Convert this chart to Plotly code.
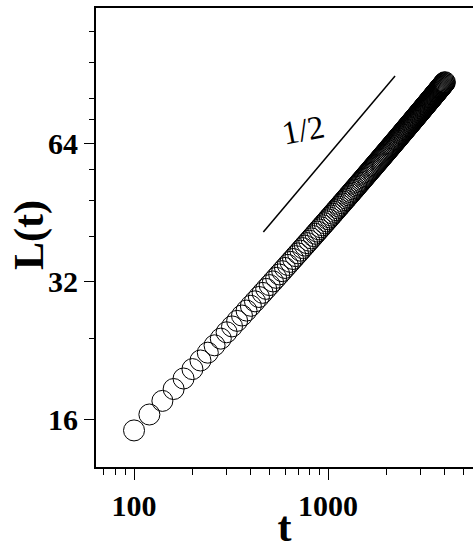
import math
import plotly.graph_objects as go

# time steps (t = 100, 120, ..., 4000)
t_vals = list(range(100, 4001, 20))

# L(t)
L_vals = [
    15.17, 16.43, 17.59, 18.67, 19.68, 20.63, 21.54, 22.40, 23.24, 24.03,
    24.81, 25.55, 26.27, 26.98, 27.66, 28.33, 28.97, 29.61, 30.23, 30.84,
    31.43, 32.01, 32.59, 33.15, 33.70, 34.25, 34.78, 35.31, 35.82, 36.34,
    36.84, 37.34, 37.83, 38.31, 38.79, 39.26, 39.72, 40.18, 40.64, 41.09,
    41.54, 41.98, 42.41, 42.85, 43.27, 43.70, 44.11, 44.53, 44.94, 45.35,
    45.75, 46.16, 46.55, 46.95, 47.34, 47.73, 48.11, 48.49, 48.87, 49.25,
    49.62, 49.99, 50.36, 50.72, 51.09, 51.45, 51.81, 52.16, 52.52, 52.87,
    53.22, 53.56, 53.91, 54.25, 54.59, 54.93, 55.26, 55.60, 55.93, 56.26,
    56.59, 56.92, 57.24, 57.57, 57.89, 58.21, 58.53, 58.84, 59.16, 59.47,
    59.78, 60.10, 60.40, 60.71, 61.02, 61.32, 61.63, 61.93, 62.23, 62.53,
    62.83, 63.12, 63.42, 63.71, 64.00, 64.30, 64.59, 64.88, 65.16, 65.45,
    65.74, 66.02, 66.30, 66.59, 66.87, 67.15, 67.42, 67.70, 67.98, 68.26,
    68.53, 68.80, 69.08, 69.35, 69.62, 69.89, 70.16, 70.42, 70.69, 70.96,
    71.22, 71.49, 71.75, 72.01, 72.28, 72.53, 72.79, 73.05, 73.31, 73.57,
    73.83, 74.08, 74.34, 74.59, 74.84, 75.10, 75.35, 75.60, 75.85, 76.10,
    76.35, 76.60, 76.84, 77.09, 77.34, 77.58, 77.83, 78.07, 78.31, 78.56,
    78.80, 79.04, 79.28, 79.52, 79.76, 80.00, 80.23, 80.47, 80.71, 80.94,
    81.18, 81.41, 81.65, 81.88, 82.11, 82.35, 82.58, 82.81, 83.04, 83.27,
    83.50, 83.73, 83.96, 84.19, 84.41, 84.64, 84.87, 85.09, 85.32, 85.54,
    85.77, 85.99, 86.21, 86.43, 86.66, 86.88,
]

# guide line with slope 1/2
guide_t = [464, 2215]
guide_slope = 0.5
guide_L0 = 41.0
guide_L = [guide_L0 * (t / guide_t[0]) ** guide_slope for t in guide_t]
guide_label = "1/2"
label_t = 745
label_L = 68.5

# ticks
x_tickvals = [100, 1000]
x_ticktext = ["100", "1000"]
x_minor = [70, 80, 90, 200, 300, 400, 500, 600, 700, 800, 900, 2000, 3000, 4000, 5000]
y_tickvals = [16, 32, 64]
y_ticktext = ["16", "32", "64"]
y_minor = [24, 40, 48, 56, 72, 80, 96, 112]

x_title = "t"
y_title = "L(t)"

serif = "Liberation Serif, Times New Roman, serif"

fig = go.Figure()
fig.add_trace(go.Scatter(
    x=t_vals, y=L_vals, mode="markers",
    marker=dict(symbol="circle-open", size=21, color="black",
                line=dict(width=1, color="black")),
    showlegend=False, hoverinfo="skip",
))
fig.add_trace(go.Scatter(
    x=guide_t, y=guide_L, mode="lines",
    line=dict(color="black", width=1.5),
    showlegend=False, hoverinfo="skip",
))

fig.add_annotation(
    x=math.log10(label_t), y=math.log10(label_L), xref="x", yref="y",
    text=guide_label, showarrow=False, textangle=-11,
    font=dict(family=serif, size=33, color="black"),
)
fig.add_annotation(
    x=-0.178, y=0.505, xref="paper", yref="paper",
    xanchor="center", yanchor="middle",
    text=y_title, showarrow=False, textangle=-90,
    font=dict(family=serif, size=42, color="black", weight="bold"),
)

fig.update_layout(
    width=473, height=550,
    margin=dict(l=96, r=0, t=8, b=83),
    paper_bgcolor="white", plot_bgcolor="white",
    showlegend=False,
)

fig.update_xaxes(
    type="log", range=[1.804, 3.747],
    showgrid=False, zeroline=False,
    showline=True, linecolor="black", linewidth=2, mirror=True,
    ticks="outside", ticklen=11, tickwidth=1.2, tickcolor="black",
    tickvals=x_tickvals, ticktext=x_ticktext,
    tickfont=dict(family=serif, size=30, color="black", weight="bold"),
    minor=dict(tickvals=x_minor, ticks="outside", ticklen=6, tickwidth=1.2,
               tickcolor="black", showgrid=False),
    title=dict(text=x_title, font=dict(family=serif, size=42, color="black", weight="bold"),
               standoff=0),
)
fig.update_yaxes(
    type="log", range=[1.1014, 2.1004],
    showgrid=False, zeroline=False,
    showline=True, linecolor="black", linewidth=2, mirror=False,
    ticks="outside", ticklen=10, tickwidth=1.2, tickcolor="black",
    tickvals=y_tickvals, ticktext=y_ticktext,
    tickfont=dict(family=serif, size=30, color="black", weight="bold"),
    minor=dict(tickvals=y_minor, ticks="outside", ticklen=5, tickwidth=1.2,
               tickcolor="black", showgrid=False),
)

fig.write_html("out.html")
